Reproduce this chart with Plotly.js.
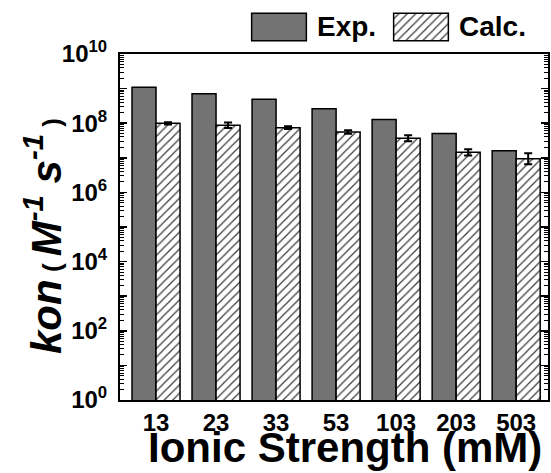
<!DOCTYPE html>
<html>
<head>
<meta charset="utf-8">
<script src="https://cdn.plot.ly/plotly-3.0.1.min.js"></script>
<style>html,body{margin:0;padding:0;background:#fff;}#chart{width:551px;height:473px;}</style>
</head>
<body>
<div id="chart"></div>
<script>
// Data
var ionicStrength = ["13", "23", "33", "53", "103", "203", "503"];
var expValues  = [1.1e9, 7.1e8, 4.9e8, 2.6e8, 1.27e8, 5.0e7, 1.6e7];
var calcValues = [9.9e7, 8.7e7, 7.4e7, 5.6e7, 3.7e7, 1.44e7, 9.4e6];
var calcErrPlus  = [8e6, 1.7e7, 7e6, 7e6, 8.2e6, 3.4e6, 4.2e6];
var calcErrMinus = [7e6, 1.4e7, 6.5e6, 6.4e6, 6.7e6, 2.8e6, 2.9e6];
var seriesNames = ["Exp.", "Calc."];
var yTickExponents = [0, 1, 2, 3, 4, 5, 6, 7, 8, 9, 10];
var xTitle = "Ionic Strength (mM)";
var yTitle = "<i>kon</i><span style='font-size:26px'> ( </span><i>M<sup>-1</sup> s<sup>-1</sup></i><span style='font-size:26px'> )</span>";

var FONT = "Liberation Sans, Arial, sans-serif";
var GRAY = "#737373";
var hatch = {shape: "/", fgcolor: "#3a3a3a", bgcolor: "#ffffff", size: 6, solidity: 0.2};

var tickVals = yTickExponents.map(function (e) { return Math.pow(10, e); });
var tickText = yTickExponents.map(function (e) { return e % 2 === 0 ? "10<sup>" + e + "</sup>" : ""; });
var minorVals = [];
for (var k = 0; k < 10; k++) { for (var d = 2; d <= 9; d++) { minorVals.push(d * Math.pow(10, k)); } }

var traces = [
  {type: "bar", name: seriesNames[0], x: ionicStrength, y: expValues,
   marker: {color: GRAY, line: {color: "#000", width: 1.5}}, showlegend: false},
  {type: "bar", name: seriesNames[1], x: ionicStrength, y: calcValues,
   marker: {color: "#fff", pattern: hatch, line: {color: "#000", width: 1.5}},
   error_y: {type: "data", symmetric: false, array: calcErrPlus, arrayminus: calcErrMinus,
             color: "#000", thickness: 2, width: 4}, showlegend: false},
  // legend glyphs
  {type: "bar", x: [0], y: [1], width: [1], xaxis: "x2", yaxis: "y2", hoverinfo: "skip",
   marker: {color: GRAY, line: {color: "#000", width: 1.5}}, showlegend: false},
  {type: "bar", x: [0], y: [1], width: [1], xaxis: "x3", yaxis: "y3", hoverinfo: "skip",
   marker: {color: "#fff", pattern: hatch, line: {color: "#000", width: 1.5}}, showlegend: false}
];

var W = 551, H = 473, mL = 120, mR = 3, mT = 12, mB = 73;
var pw = W - mL - mR, ph = H - mT - mB;
function px(x) { return (x - mL) / pw; }
function py(y) { return (H - mB - y) / ph; }

var legAxisX = {range: [-0.53, 0.53], visible: false, fixedrange: true};
var legAxisY = {range: [-0.05, 1.05], visible: false, fixedrange: true};

var layout = {
  width: W, height: H,
  margin: {l: mL, r: mR, t: mT, b: mB, pad: 0},
  paper_bgcolor: "#fff", plot_bgcolor: "#fff",
  font: {family: FONT, color: "#000"},
  barmode: "group", bargap: 0.2, bargroupgap: 0,
  showlegend: false,
  xaxis: {
    type: "category", range: [-0.6, 6.53], domain: [0, 1],
    showline: true, linecolor: "#000", linewidth: 2, mirror: true,
    ticks: "", showgrid: false, zeroline: false,
    tickfont: {family: FONT, size: 24, weight: "bold"},
    ticklabelstandoff: 0
  },
  yaxis: {
    type: "log", range: [0, 10], domain: [0, py(54)],
    showline: true, linecolor: "#000", linewidth: 2, mirror: "ticks",
    tickmode: "array", tickvals: tickVals, ticktext: tickText,
    ticks: "inside", ticklen: 7, tickwidth: 1.5, tickcolor: "#000",
    minor: {tickmode: "array", tickvals: minorVals, ticks: "inside", ticklen: 4, tickwidth: 1, tickcolor: "#000", showgrid: false},
    showgrid: false, zeroline: false,
    tickfont: {family: FONT, size: 24, weight: "bold"},
    ticklabelstandoff: 6
  },
  xaxis2: Object.assign({domain: [px(250), px(308)], anchor: "y2"}, legAxisX),
  yaxis2: Object.assign({domain: [py(42), py(12)], anchor: "x2"}, legAxisY),
  xaxis3: Object.assign({domain: [px(392), px(450)], anchor: "y3"}, legAxisX),
  yaxis3: Object.assign({domain: [py(42), py(12)], anchor: "x3"}, legAxisY),
  annotations: [
    {xref: "paper", yref: "paper", x: px(315), y: py(27), xanchor: "left", yanchor: "middle",
     text: seriesNames[0], showarrow: false, font: {family: FONT, size: 28, weight: "bold"}},
    {xref: "paper", yref: "paper", x: px(457), y: py(27), xanchor: "left", yanchor: "middle",
     text: seriesNames[1], showarrow: false, font: {family: FONT, size: 28, weight: "bold"}},
    {xref: "paper", yref: "paper", x: px(345), y: py(473), xanchor: "center", yanchor: "bottom",
     text: xTitle, showarrow: false, font: {family: FONT, size: 42, weight: "bold"}},
    {xref: "paper", yref: "paper", x: px(43), y: py(236), xanchor: "center", yanchor: "middle",
     textangle: -90, text: yTitle, showarrow: false, font: {family: FONT, size: 42, weight: "bold"}}
  ]
};

Plotly.newPlot("chart", traces, layout, {displayModeBar: false, staticPlot: true});
</script>
</body>
</html>
